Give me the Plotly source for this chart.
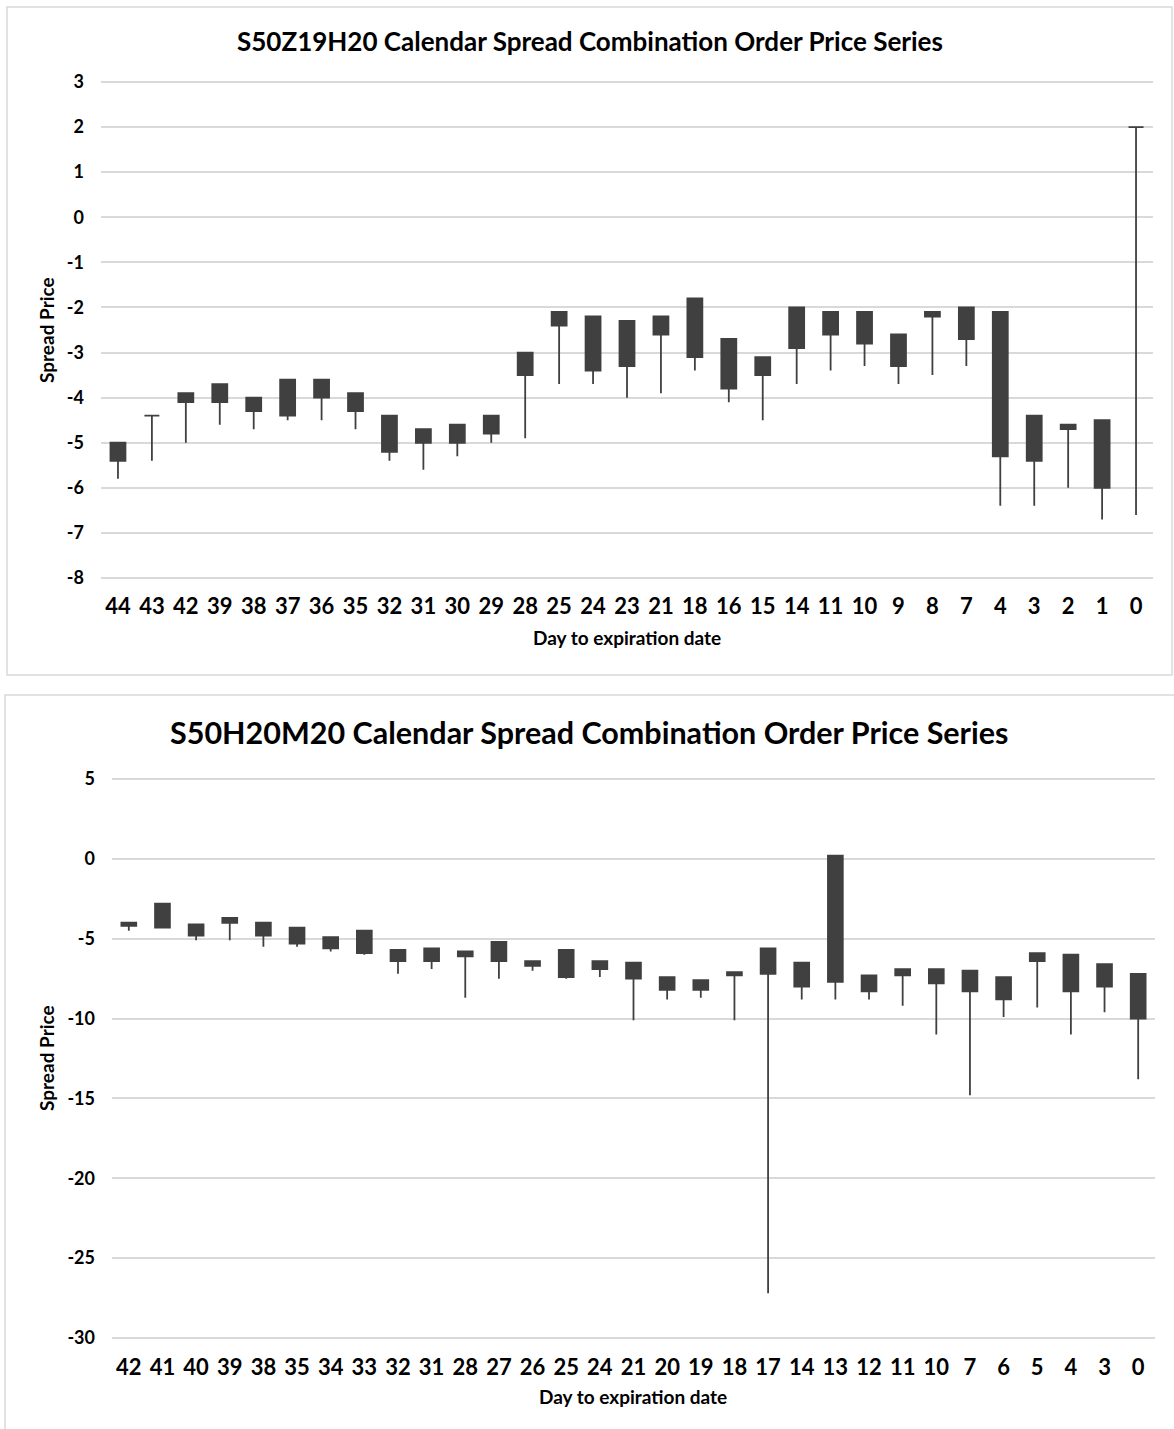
import plotly.graph_objects as go

W, H = 1174, 1429

# ---------------- Data: chart 1 (S50Z19H20) ----------------
days_1 = ["44", "43", "42", "39", "38", "37", "36", "35", "32", "31", "30", "29", "28", "25", "24",
          "23", "21", "18", "16", "15", "14", "11", "10", "9", "8", "7", "4", "3", "2", "1", "0"]
open_1 = [-5.0, -4.4, -3.9, -3.7, -4.0, -3.6, -3.6, -3.9, -4.4, -4.7, -4.6, -4.4, -3.0, -2.1, -2.2,
          -2.3, -2.2, -1.8, -2.7, -3.1, -2.0, -2.1, -2.1, -2.6, -2.1, -2.0, -2.1, -4.4, -4.6, -4.5, 2.0]
high_1 = [-5.0, -4.4, -3.9, -3.7, -4.0, -3.6, -3.6, -3.9, -4.4, -4.7, -4.6, -4.4, -3.0, -2.1, -2.2,
          -2.3, -2.2, -1.8, -2.7, -3.1, -2.0, -2.1, -2.1, -2.6, -2.1, -2.0, -2.1, -4.4, -4.6, -4.5, 2.0]
close_1 = [-5.4, -4.4, -4.1, -4.1, -4.3, -4.4, -4.0, -4.3, -5.2, -5.0, -5.0, -4.8, -3.5, -2.4, -3.4,
           -3.3, -2.6, -3.1, -3.8, -3.5, -2.9, -2.6, -2.8, -3.3, -2.2, -2.7, -5.3, -5.4, -4.7, -6.0, 2.0]
low_1 = [-5.8, -5.4, -5.0, -4.6, -4.7, -4.5, -4.5, -4.7, -5.4, -5.6, -5.3, -5.0, -4.9, -3.7, -3.7,
         -4.0, -3.9, -3.4, -4.1, -4.5, -3.7, -3.4, -3.3, -3.7, -3.5, -3.3, -6.4, -6.4, -6.0, -6.7, -6.6]
yticks_1 = [3, 2, 1, 0, -1, -2, -3, -4, -5, -6, -7, -8]

# ---------------- Data: chart 2 (S50H20M20) ----------------
days_2 = ["42", "41", "40", "39", "38", "35", "34", "33", "32", "31", "28", "27", "26", "25", "24",
          "21", "20", "19", "18", "17", "14", "13", "12", "11", "10", "7", "6", "5", "4", "3", "0"]
open_2 = [-4.0, -2.8, -4.1, -3.7, -4.0, -4.3, -4.9, -4.5, -5.7, -5.6, -5.8, -5.2, -6.4, -5.7, -6.4,
          -6.5, -7.4, -7.6, -7.1, -5.6, -6.5, 0.2, -7.3, -6.9, -6.9, -7.0, -7.4, -5.9, -6.0, -6.6, -7.2]
high_2 = [-4.0, -2.8, -4.1, -3.7, -4.0, -4.3, -4.9, -4.5, -5.7, -5.6, -5.8, -5.2, -6.4, -5.7, -6.4,
          -6.5, -7.4, -7.6, -7.1, -5.6, -6.5, 0.2, -7.3, -6.9, -6.9, -7.0, -7.4, -5.9, -6.0, -6.6, -7.2]
close_2 = [-4.2, -4.3, -4.8, -4.0, -4.8, -5.3, -5.6, -5.9, -6.4, -6.4, -6.1, -6.4, -6.7, -7.4, -6.9,
           -7.5, -8.2, -8.2, -7.3, -7.2, -8.0, -7.7, -8.3, -7.3, -7.8, -8.3, -8.8, -6.4, -8.3, -8.0, -10.0]
low_2 = [-4.5, -4.3, -5.1, -5.1, -5.5, -5.5, -5.8, -6.0, -7.2, -6.9, -8.7, -7.5, -7.0, -7.5, -7.4,
         -10.1, -8.8, -8.7, -10.1, -27.2, -8.8, -8.8, -8.8, -9.2, -11.0, -14.8, -9.9, -9.3, -11.0, -9.6, -13.8]
yticks_2 = [5, 0, -5, -10, -15, -20, -25, -30]

title_1 = "S50Z19H20 Calendar Spread Combination Order Price Series"
title_2 = "S50H20M20 Calendar Spread Combination Order Price Series"
xtitle = "Day to expiration date"
ytitle = "Spread Price"

# ---------------- Styling ----------------
FONT = "Lato"
CANDLE = "#404040"
GRID = "#d9d9d9"


def px(x):
    return x / W


def py(y):
    return 1 - y / H


def candle(x, o, h, l, c, xa, ya):
    style = dict(fillcolor=CANDLE, line=dict(color=CANDLE, width=1.8))
    return go.Candlestick(
        x=x, open=o, high=h, low=l, close=c,
        increasing=style, decreasing=style,
        whiskerwidth=0, showlegend=False, hoverinfo="skip",
        xaxis=xa, yaxis=ya,
    )


fig = go.Figure()
fig.add_trace(candle(days_1, open_1, high_1, low_1, close_1, "x", "y"))
fig.add_trace(candle(days_2, open_2, high_2, low_2, close_2, "x2", "y2"))

xcommon = dict(
    type="category", showgrid=False, zeroline=False, showline=False, automargin=False,
    ticks="", tickfont=dict(family=FONT, size=22, color="#000000", weight="bold"),
    ticklabelstandoff=12, rangeslider=dict(visible=False), fixedrange=True,
)
ycommon = dict(
    showgrid=True, gridcolor=GRID, gridwidth=1.6, zeroline=False, showline=False,
    automargin=False,
    ticks="", tickfont=dict(family=FONT, size=18, color="#000000", weight="bold"),
    ticklabelstandoff=16, fixedrange=True,
)

# axis ranges padded a hair so the edge gridlines are drawn
pad1 = 0.03
pad2 = 0.1
ppu1 = (578 - 82) / 11.0
ppu2 = (1338 - 779) / 35.0

fig.update_layout(
    width=W, height=H,
    margin=dict(l=0, r=0, t=0, b=0, pad=0, autoexpand=False),
    paper_bgcolor="white", plot_bgcolor="white",
    boxgap=0.37,
    xaxis=dict(xcommon, domain=[px(101), px(1153)], anchor="y",
               range=[-0.5, len(days_1) - 0.5]),
    yaxis=dict(ycommon, domain=[py(578 + pad1 * ppu1), py(82 - pad1 * ppu1)], anchor="x",
               range=[-8 - pad1, 3 + pad1], tickvals=yticks_1,
               ticktext=[str(v) for v in yticks_1]),
    xaxis2=dict(xcommon, domain=[px(112), px(1155)], anchor="y2",
                range=[-0.5, len(days_2) - 0.5]),
    yaxis2=dict(ycommon, domain=[py(1338 + pad2 * ppu2), py(779 - pad2 * ppu2)], anchor="x2",
                range=[-30 - pad2, 5 + pad2], tickvals=yticks_2,
                ticktext=[str(v) for v in yticks_2]),
)

# chart frames
fig.add_shape(type="rect", xref="paper", yref="paper",
              x0=px(7), x1=px(1172), y0=py(675), y1=py(7),
              line=dict(color=GRID, width=1.5), layer="below")
fig.add_shape(type="rect", xref="paper", yref="paper",
              x0=px(5), x1=px(1190), y0=py(1445), y1=py(695),
              line=dict(color=GRID, width=1.5), layer="below")

ann = [
    dict(text=title_1, x=px(590), y=py(41), size=26),
    dict(text=title_2, x=px(589), y=py(732), size=30.5),
    dict(text=xtitle, x=px(627), y=py(637), size=19),
    dict(text=xtitle, x=px(633), y=py(1396), size=19),
]
for a in ann:
    fig.add_annotation(text=a["text"], x=a["x"], y=a["y"], xref="paper", yref="paper",
                       xanchor="center", yanchor="middle", showarrow=False,
                       font=dict(family=FONT, size=a["size"], color="#000000", weight="bold"))
for yc in (330, 1058):
    fig.add_annotation(text=ytitle, x=px(46), y=py(yc), xref="paper", yref="paper",
                       xanchor="center", yanchor="middle", showarrow=False, textangle=-90,
                       font=dict(family=FONT, size=19, color="#000000", weight="bold"))

fig.write_html("out.html")
